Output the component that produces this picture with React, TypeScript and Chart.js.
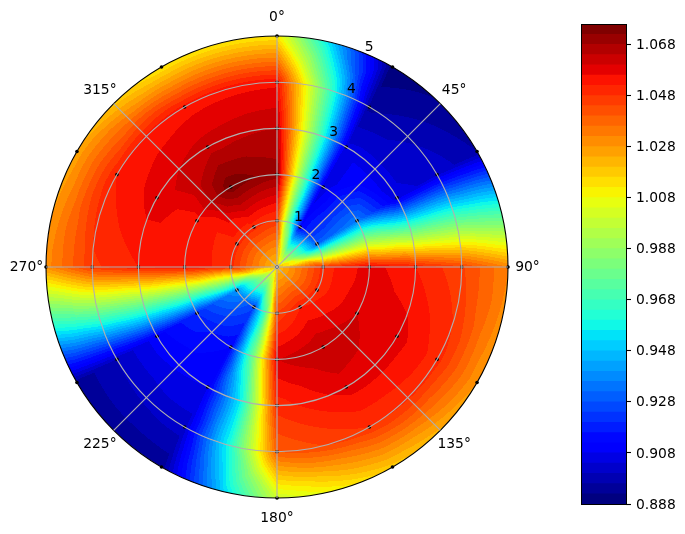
import React, { useEffect, useRef } from "react";
import { Chart, registerables } from "chart.js";

Chart.register(...registerables);

const FONT = "'DejaVu Sans'";
const FONT_SIZE = 13.89;

// Sample grid: radius values and one list per spoke (r = 0..5)
const radii = [0, 1, 2, 3, 4, 5];
const thetas = [0, 15, 30, 60, 90, 120, 150, 180, 195, 210, 240, 270, 300, 330, 360];
const at0 = [1.02, 1.047, 1.07, 1.064, 1.055, 1.012];
const at15 = [1.02, 0.975, 0.985, 0.985, 0.977, 0.945];
const at30 = [1.02, 0.912, 0.905, 0.905, 0.895, 0.889];
const at60 = [1.02, 0.93, 0.935, 0.905, 0.903, 0.896];
const at90 = [1.02, 1.05, 1.058, 1.052, 1.045, 1.032];
const at120 = [1.02, 1.05, 1.06, 1.058, 1.05, 1.028];
const at150 = [1.02, 1.052, 1.064, 1.058, 1.048, 1.018];
const at180 = [1.02, 1.045, 1.06, 1.05, 1.04, 1.0];
const at195 = [1.02, 0.97, 0.98, 0.957, 0.96, 0.945];
const at210 = [1.02, 0.925, 0.912, 0.908, 0.902, 0.893];
const at240 = [1.02, 0.94, 0.92, 0.91, 0.9, 0.893];
const at270 = [1.02, 1.05, 1.055, 1.052, 1.047, 1.03];
const at300 = [1.02, 1.05, 1.054, 1.058, 1.052, 1.025];
const at330 = [1.02, 1.05, 1.075, 1.062, 1.054, 1.012];
const grid = [at0, at15, at30, at60, at90, at120, at150, at180, at195, at210, at240, at270, at300, at330, at0];

// 24 spokes of 15 degrees: labels every 45, samples every 30
const spokes = Array.from({ length: 24 }, (_, i) => i);
const angleLabels = ["0°", "45°", "90°", "135°", "180°", "225°", "270°", "315°"];

const levels = [
  0.888, 0.892, 0.896, 0.9, 0.904, 0.908, 0.912, 0.916, 0.92, 0.924, 0.928, 0.932,
  0.936, 0.94, 0.944, 0.948, 0.952, 0.956, 0.96, 0.964, 0.968, 0.972, 0.976, 0.98,
  0.984, 0.988, 0.992, 0.996, 1.0, 1.004, 1.008, 1.012, 1.016, 1.02, 1.024, 1.028,
  1.032, 1.036, 1.04, 1.044, 1.048, 1.052, 1.056, 1.06, 1.064, 1.068, 1.072, 1.076,
];
const colorbarTicks = [0.888, 0.908, 0.928, 0.948, 0.968, 0.988, 1.008, 1.028, 1.048, 1.068];

const JET: number[][][] = [
  [[0, 0], [0.35, 0], [0.66, 1], [0.89, 1], [1, 0.5]],
  [[0, 0], [0.125, 0], [0.375, 1], [0.64, 1], [0.91, 0], [1, 0]],
  [[0, 0.5], [0.11, 1], [0.34, 1], [0.65, 0], [1, 0]],
];
function jet(t: number): number[] {
  return JET.map((seg) => {
    for (let i = 1; i < seg.length; i++) {
      if (t <= seg[i][0]) {
        const f = (t - seg[i - 1][0]) / (seg[i][0] - seg[i - 1][0]);
        return Math.round(255 * (seg[i - 1][1] + f * (seg[i][1] - seg[i - 1][1])));
      }
    }
    return Math.round(255 * seg[seg.length - 1][1]);
  });
}
const bandCount = levels.length - 1;
const bandColors = Array.from({ length: bandCount }, (_, i) => jet(i / (bandCount - 1)));

function valueAt(thetaDeg: number, r: number): number {
  let i = 0;
  while (i < thetas.length - 2 && thetaDeg >= thetas[i + 1]) i++;
  let j = 0;
  while (j < radii.length - 2 && r >= radii[j + 1]) j++;
  const u = (thetaDeg - thetas[i]) / (thetas[i + 1] - thetas[i]);
  const v = (r - radii[j]) / (radii[j + 1] - radii[j]);
  const z00 = grid[i][j];
  const z10 = grid[i + 1][j];
  const z01 = grid[i][j + 1];
  const z11 = grid[i + 1][j + 1];
  const c = (z00 + z10 + z01 + z11) / 4;
  if (v <= u && u + v <= 1) return 2 * v * c + (u - v) * z10 + (1 - u - v) * z00;
  if (v >= u && u + v >= 1) return (2 - 2 * v) * c + (u + v - 1) * z11 + (v - u) * z01;
  if (u <= v && u + v <= 1) return 2 * u * c + (v - u) * z01 + (1 - u - v) * z00;
  return (2 - 2 * u) * c + (u + v - 1) * z11 + (u - v) * z10;
}

const contourPlugin = {
  id: "contour",
  beforeDatasetsDraw(chart: any) {
    const scale = chart.scales.r;
    const cx = scale.xCenter;
    const cy = scale.yCenter;
    const R = scale.getDistanceFromCenterForValue(5);
    const size = Math.ceil(R) * 2 + 2;
    const off = document.createElement("canvas");
    off.width = size;
    off.height = size;
    const octx = off.getContext("2d")!;
    const img = octx.createImageData(size, size);
    const half = size / 2;
    for (let y = 0; y < size; y++) {
      for (let x = 0; x < size; x++) {
        const dx = x + 0.5 - half;
        const dy = y + 0.5 - half;
        const d = Math.hypot(dx, dy);
        if (d > R + 1.5) continue;
        const r = Math.min(scale.getValueForDistanceFromCenter(d), 5);
        let th = (Math.atan2(dx, -dy) * 180) / Math.PI;
        if (th < 0) th += 360;
        const val = valueAt(th, r);
        let band = Math.floor((val - levels[0]) / (levels[bandCount] - levels[0]) * bandCount);
        band = Math.max(0, Math.min(bandCount - 1, band));
        const col = bandColors[band];
        const k = (y * size + x) * 4;
        img.data[k] = col[0];
        img.data[k + 1] = col[1];
        img.data[k + 2] = col[2];
        img.data[k + 3] = 255;
      }
    }
    octx.putImageData(img, 0, 0);
    const ctx = chart.ctx;
    ctx.save();
    ctx.beginPath();
    ctx.arc(cx, cy, R, 0, Math.PI * 2);
    ctx.clip();
    ctx.drawImage(off, cx - half, cy - half);
    ctx.restore();
  },
  afterDraw(chart: any) {
    const scale = chart.scales.r;
    const ctx = chart.ctx;
    ctx.save();
    ctx.fillStyle = "#000";
    ctx.font = `${FONT_SIZE}px ${FONT}`;
    ctx.textAlign = "center";
    ctx.textBaseline = "middle";
    const R = scale.getDistanceFromCenterForValue(5);
    angleLabels.forEach((label, i) => {
      const a = (i * Math.PI) / 4;
      ctx.fillText(label, scale.xCenter + (R + 19.5) * Math.sin(a), scale.yCenter - (R + 19.5) * Math.cos(a) + 0.5);
    });
    const tickAngle = (22.5 * Math.PI) / 180;
    scale.ticks.forEach((t: any) => {
      if (t.value === 0) return;
      const d = scale.getDistanceFromCenterForValue(t.value) + 7;
      ctx.fillText(String(t.value), scale.xCenter + d * Math.sin(tickAngle) + 1, scale.yCenter - d * Math.cos(tickAngle));
    });
    ctx.restore();
  },
};

const framePlugin = {
  id: "frame",
  afterDraw(chart: any) {
    const { left, top, width, height } = chart.chartArea;
    const ctx = chart.ctx;
    ctx.save();
    ctx.strokeStyle = "#000";
    ctx.lineWidth = 1;
    ctx.strokeRect(left + 0.5, top + 0.5, width, height);
    ctx.restore();
  },
};

export default function App() {
  const polarRef = useRef<HTMLCanvasElement | null>(null);
  const barRef = useRef<HTMLCanvasElement | null>(null);

  useEffect(() => {
    const polar = new Chart(polarRef.current!, {
      type: "radar",
      plugins: [contourPlugin],
      data: {
        labels: spokes.map((s) => String(s * 15)),
        datasets: radii.map((r) => ({
          label: `r=${r}`,
          data: spokes.map((s) => (s % 2 === 0 ? r : null)),
          showLine: false,
          pointRadius: 1.8,
          pointBorderWidth: 0,
          pointBackgroundColor: "#000",
        })),
      } as any,
      options: {
        responsive: false,
        animation: false,
        devicePixelRatio: 1,
        layout: { padding: { left: 46, right: 52, top: 36, bottom: 36 } },
        plugins: { legend: { display: false }, tooltip: { enabled: false } },
        scales: {
          r: {
            min: 0,
            max: 5,
            ticks: { stepSize: 1, display: false },
            pointLabels: { display: false },
            grid: {
              circular: true,
              z: 1,
              color: (c: any) => (c.tick && c.tick.value === 5 ? "#000" : "#b0b0b0"),
              lineWidth: 1.1,
            },
            angleLines: {
              color: "#b0b0b0",
              lineWidth: (c: any) => (c.index % 3 === 0 ? 1.1 : 0),
            },
          },
        },
      } as any,
    });

    const bar = new Chart(barRef.current!, {
      type: "bar",
      plugins: [framePlugin],
      data: {
        labels: ["levels"],
        datasets: bandColors.map((col, i) => ({
          label: String(levels[i]),
          data: [[levels[0], levels[i + 1]]],
          backgroundColor: `rgb(${col[0]},${col[1]},${col[2]})`,
          borderWidth: 0,
          barPercentage: 1,
          categoryPercentage: 1,
        })),
      } as any,
      options: {
        responsive: false,
        animation: false,
        devicePixelRatio: 1,
        layout: { padding: { left: 21, right: 0, top: 24, bottom: 30 } },
        plugins: { legend: { display: false }, tooltip: { enabled: false } },
        scales: {
          x: { display: false, stacked: true },
          y: {
            position: "right",
            min: levels[0],
            max: levels[bandCount],
            afterBuildTicks: (scale: any) => {
              scale.ticks = colorbarTicks.map((value) => ({ value }));
            },
            afterFit: (scale: any) => {
              scale.width = 59;
            },
            grid: { drawOnChartArea: false, drawTicks: true, tickLength: 5, tickColor: "#000", tickWidth: 1.1 },
            border: { display: false },
            ticks: {
              color: "#000",
              padding: 5,
              labelOffset: 1,
              font: { family: FONT, size: FONT_SIZE },
              callback: (v: any) => Number(v).toFixed(3),
            },
          },
        },
      } as any,
    });

    return () => {
      polar.destroy();
      bar.destroy();
    };
  }, []);

  return (
    <div style={{ position: "absolute", left: 0, top: 0, width: 685, height: 534 }}>
      <canvas ref={polarRef} width={560} height={534} style={{ position: "absolute", left: 0, top: 0, display: "block" }} />
      <canvas ref={barRef} width={125} height={534} style={{ position: "absolute", left: 560, top: 0, display: "block" }} />
    </div>
  );
}
